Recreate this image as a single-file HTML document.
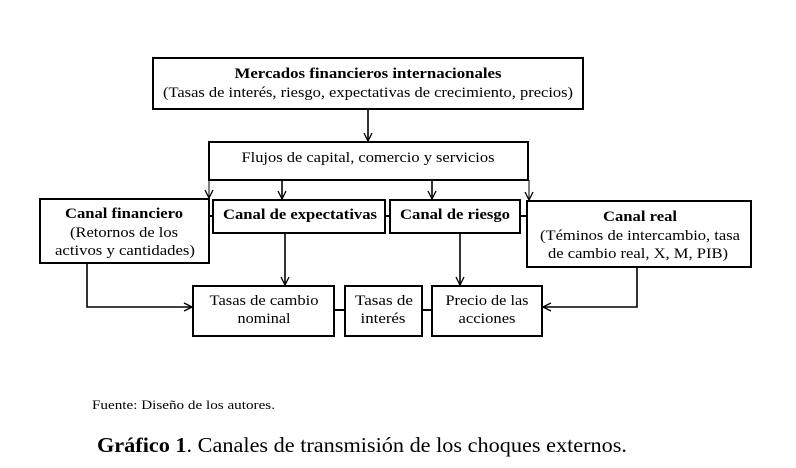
<!DOCTYPE html>
<html><head><meta charset="utf-8"><style>
html,body{margin:0;padding:0;background:#fff;}
svg{display:block;}
text{font-family:"Liberation Serif",serif;fill:#000;}
</style></head><body>
<svg width="796" height="468" viewBox="0 0 796 468" xmlns="http://www.w3.org/2000/svg">
<defs>
<marker id="a" markerWidth="10" markerHeight="10" refX="9" refY="5" orient="auto" markerUnits="userSpaceOnUse">
<path d="M1,1 L9,5 L1,9" fill="none" stroke="#000" stroke-width="1.3"/>
</marker>
</defs>
<g fill="none" stroke="#000" stroke-width="2">
<rect x="153" y="58" width="430" height="51"/>
<rect x="209" y="142" width="319" height="38"/>
<rect x="40" y="199" width="169" height="64"/>
<rect x="213" y="200" width="172" height="33"/>
<rect x="390" y="200" width="130" height="33"/>
<rect x="527" y="201" width="224" height="66"/>
<rect x="193" y="286" width="141" height="50"/>
<rect x="345" y="286" width="77" height="50"/>
<rect x="432" y="286" width="110" height="50"/>
<line x1="209" y1="216" x2="213" y2="216"/>
<line x1="385" y1="216" x2="390" y2="216"/>
<line x1="520" y1="216" x2="527" y2="216"/>
<line x1="334" y1="310" x2="345" y2="310"/>
<line x1="422" y1="310" x2="432" y2="310"/>
</g>
<g fill="none" stroke="#000" stroke-width="1.6">
<line x1="368" y1="109" x2="368" y2="141" marker-end="url(#a)"/>
<line x1="209" y1="180" x2="209" y2="198" marker-end="url(#a)" stroke-width="1"/>
<line x1="282" y1="180" x2="282" y2="199" marker-end="url(#a)"/>
<line x1="432" y1="180" x2="432" y2="199" marker-end="url(#a)"/>
<line x1="529" y1="180" x2="529" y2="200" marker-end="url(#a)" stroke-width="1"/>
<line x1="285" y1="233" x2="285" y2="285" marker-end="url(#a)"/>
<line x1="460" y1="233" x2="460" y2="285" marker-end="url(#a)"/>
<polyline points="87,263 87,307 192,307" marker-end="url(#a)"/>
<polyline points="637,267 637,307 543,307" marker-end="url(#a)"/>
</g>
<g font-size="15" text-anchor="middle">
<text x="368" y="78" font-weight="bold" textLength="267" lengthAdjust="spacingAndGlyphs">Mercados financieros internacionales</text>
<text x="368" y="97" textLength="410" lengthAdjust="spacingAndGlyphs">(Tasas de interés, riesgo, expectativas de crecimiento, precios)</text>
<text x="368" y="162" textLength="253" lengthAdjust="spacingAndGlyphs">Flujos de capital, comercio y servicios</text>
<text x="124" y="218" font-weight="bold" textLength="118" lengthAdjust="spacingAndGlyphs">Canal financiero</text>
<text x="124" y="237" textLength="108" lengthAdjust="spacingAndGlyphs">(Retornos de los</text>
<text x="125" y="255" textLength="140" lengthAdjust="spacingAndGlyphs">activos y cantidades)</text>
<text x="300" y="219" font-weight="bold" textLength="154" lengthAdjust="spacingAndGlyphs">Canal de expectativas</text>
<text x="455" y="219" font-weight="bold" textLength="110" lengthAdjust="spacingAndGlyphs">Canal de riesgo</text>
<text x="640" y="221" font-weight="bold" textLength="74" lengthAdjust="spacingAndGlyphs">Canal real</text>
<text x="640" y="240" textLength="200" lengthAdjust="spacingAndGlyphs">(Téminos de intercambio, tasa</text>
<text x="638" y="258" textLength="180" lengthAdjust="spacingAndGlyphs">de cambio real, X, M, PIB)</text>
<text x="264" y="305" textLength="109" lengthAdjust="spacingAndGlyphs">Tasas de cambio</text>
<text x="264" y="323" textLength="53" lengthAdjust="spacingAndGlyphs">nominal</text>
<text x="384" y="305" textLength="58" lengthAdjust="spacingAndGlyphs">Tasas de</text>
<text x="383" y="323" textLength="45" lengthAdjust="spacingAndGlyphs">interés</text>
<text x="487" y="305" textLength="83" lengthAdjust="spacingAndGlyphs">Precio de las</text>
<text x="487" y="323" textLength="57" lengthAdjust="spacingAndGlyphs">acciones</text>
</g>
<text x="92" y="409" font-size="13" textLength="183" lengthAdjust="spacingAndGlyphs">Fuente: Diseño de los autores.</text>
<text x="97" y="452" font-size="21" textLength="530" lengthAdjust="spacingAndGlyphs"><tspan font-weight="bold">Gráfico 1</tspan>. Canales de transmisión de los choques externos.</text>
</svg>
</body></html>
